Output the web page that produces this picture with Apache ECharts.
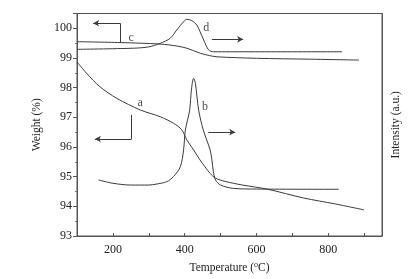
<!DOCTYPE html>
<html><head><meta charset="utf-8">
<script src="https://cdn.jsdelivr.net/npm/echarts@6/dist/echarts.min.js"></script>
<style>html,body{margin:0;padding:0;background:#fff}#c{width:418px;height:279px}</style>
</head><body><div id="c"></div>
<script>
// Weight curves (temperature °C, weight %)
const curveA = [[100,98.87],[127,98.48],[164,98.03],[211,97.64],[276,97.25],[332,97.02],[369,96.8],[392,96.58],[406,96.24],[425,95.9],[443,95.56],[471,95.11],[486,94.95],[513,94.84],[560,94.72],[630,94.58],[732,94.28],[820,94.08],[900,93.88]];
const curveC = [[100,99.55],[220,99.52],[332,99.47],[380,99.4],[406,99.33],[444,99.16],[470,99.08],[490,99.04],[600,98.99],[750,98.96],[886,98.93]];
// Intensity curves (temperature °C, arbitrary units)
const curveB = [[160,25.2],[200,23.7],[250,22.9],[300,22.9],[320,23.3],[350,24.4],[369,26.7],[388,31.1],[397,38.7],[402,47.6],[414,56.6],[419,66],[425,70.9],[430,68.6],[439,56.6],[452,47.6],[471,38.7],[476,34.2],[480,28.9],[486,25.2],[500,22.9],[536,21.4],[600,21.1],[829,21.0]];
const curveD = [[100,83.9],[257,84.4],[300,85.0],[332,86.6],[360,88.9],[378,92.6],[397,96.3],[406,97.4],[420,96.8],[434,94.8],[443,91.8],[453,88.1],[467,83.6],[481,82.8],[839,82.8]];
// Annotation labels and arrows (data coordinates on the weight axis)
const labels = [['a',276,97.48],['b',457,97.36],['c',251,99.68],['d',460,100.0]];
const arrowPlain = [[[220,99.52],[220,100.17]],[[252,97.08],[252,96.27]]];
const arrowHeads = [[[220,100.17],[145,100.17]],[[252,96.27],[150,96.27]],[[476,99.63],[563,99.63]],[[466,96.5],[541,96.5]]];

const lineCol = '#3a3a3a';
const font = 'Liberation Serif';
const chart = echarts.init(document.getElementById('c'));
const mk = (d, yi) => ({type:'line', data:d, yAxisIndex:yi, showSymbol:false, smooth:0.3,
  lineStyle:{color:lineCol, width:1}, silent:true, animation:false});
chart.setOption({
  animation:false,
  grid:{left:77, top:13.5, right:36, bottom:43, show:true, borderColor:'#555', borderWidth:1},
  xAxis:{type:'value', min:100, max:950, interval:100,
    axisLine:{lineStyle:{color:'#555'}},
    axisTick:{inside:true, length:3, lineStyle:{color:'#555'}},
    splitLine:{show:false},
    axisLabel:{fontFamily:font, fontSize:12, color:'#222', formatter:v => v%200===0 ? v : ''},
    name:'Temperature ({sup|o}C)', nameLocation:'middle', nameGap:22,
    nameTextStyle:{fontFamily:font, fontSize:11.5, color:'#222', rich:{sup:{fontFamily:font, fontSize:8, verticalAlign:'top', padding:[0,0,6,0], color:'#222'}}}},
  yAxis:[{type:'value', min:93, max:100.5, interval:1,
    axisLine:{show:true, lineStyle:{color:'#555'}},
    axisTick:{show:true, length:4, lineStyle:{color:'#555'}},
    minorTick:{show:true, splitNumber:2, length:2, lineStyle:{color:'#777'}},
    splitLine:{show:false},
    axisLabel:{fontFamily:font, fontSize:12, color:'#222', margin:5, formatter:v => Number.isInteger(v) ? v : ''},
    name:'Weight (%)', nameLocation:'middle', nameGap:27,
    nameTextStyle:{fontFamily:font, fontSize:11.5, color:'#222'}},
   {type:'value', min:0, max:100, position:'right',
    axisLine:{show:true, lineStyle:{color:'#555'}}, axisTick:{show:false}, axisLabel:{show:false}, splitLine:{show:false},
    name:'Intensity (a.u.)', nameLocation:'middle', nameGap:8, nameRotate:90,
    nameTextStyle:{fontFamily:font, fontSize:11.5, color:'#222', verticalAlign:'top'}}],
  series:[mk(curveA,0), mk(curveC,0), mk(curveB,1), mk(curveD,1),
   {type:'line', data:[], yAxisIndex:0, silent:true,
    markLine:{silent:true, symbol:['none','none'], lineStyle:{color:lineCol, width:1, type:'solid'}, label:{show:false},
      data:arrowPlain.map(p => [{coord:p[0]},{coord:p[1]}])}},
   {type:'line', data:[], yAxisIndex:0, silent:true,
    markLine:{silent:true, symbol:['none','arrow'], symbolSize:[5,6], lineStyle:{color:lineCol, width:1, type:'solid'}, label:{show:false},
      data:arrowHeads.map(p => [{coord:p[0]},{coord:p[1]}])}},
   {type:'scatter', data:labels.map(l => ({value:[l[1],l[2]], name:l[0]})), yAxisIndex:0, symbolSize:0, silent:true,
    label:{show:true, position:'inside', formatter:p => p.name, fontFamily:font, fontSize:12, color:'#222'}}]
});
</script></body></html>
